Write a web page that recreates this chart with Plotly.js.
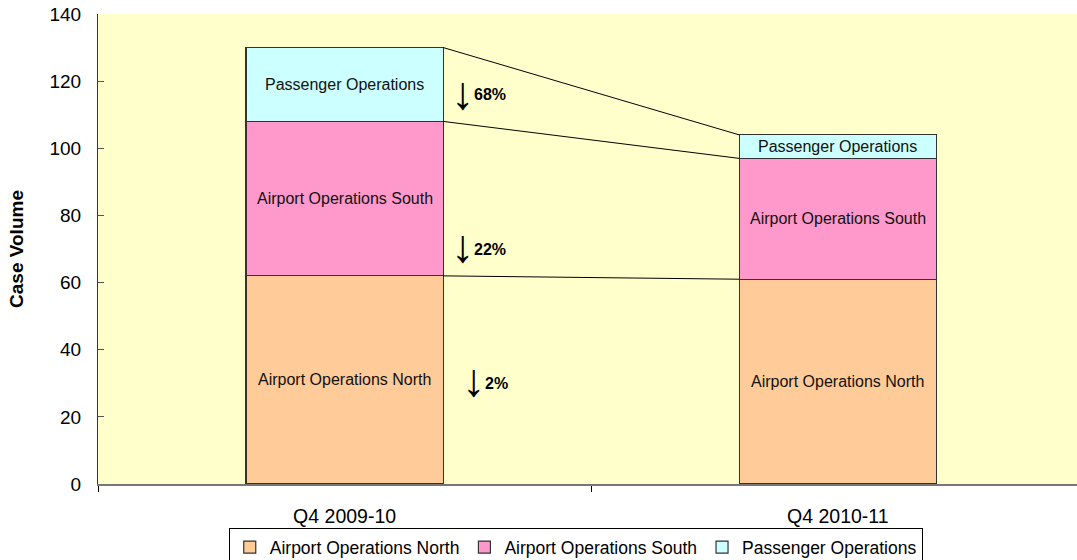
<!DOCTYPE html>
<html><head><meta charset="utf-8">
<script src="https://cdn.plot.ly/plotly-3.0.1.min.js"></script>
<style>html,body{margin:0;padding:0;background:#fff}#chart{width:1077px;height:560px}</style>
</head><body><div id="chart"></div>
<script>
const categories = ["Q4 2009-10", "Q4 2010-11"];
const seriesNames = ["Airport Operations North", "Airport Operations South", "Passenger Operations"];
const northValues = [62, 61];
const southValues = [46, 36];
const passengerValues = [22, 7];
const changeLabels = ["2%", "22%", "68%"];
const yTicks = [0, 20, 40, 60, 80, 100, 120, 140];

const colors = ["#FFCC99", "#FF99CC", "#CCFFFF"];
const allSeries = [northValues, southValues, passengerValues];
const xi = [0, 1];
const barW = 0.4;
const font = "Liberation Sans, Arial, sans-serif";

const traces = allSeries.map((vals, i) => ({
  type: "bar", name: seriesNames[i], x: xi, y: vals, width: barW,
  marker: {color: colors[i], line: {color: "#333", width: 1.2}},
  hoverinfo: "skip"
}));

const cum = [];
let running = [0, 0];
allSeries.forEach(vals => { running = running.map((r, k) => r + vals[k]); cum.push(running.slice()); });
let bases = [0, 0];
const annotations = [];
allSeries.forEach((vals, i) => {
  vals.forEach((v, k) => {
    annotations.push({x: xi[k], y: bases[k] + v / 2, xref: "x", yref: "y", text: seriesNames[i],
      showarrow: false, font: {family: font, size: 16, color: "#111"}});
  });
  bases = bases.map((b, k) => b + vals[k]);
});
cum.forEach(c => {
  traces.push({type: "scatter", mode: "lines", x: [xi[0] + barW / 2, xi[1] - barW / 2], y: [c[0], c[1]],
    line: {color: "#000", width: 1}, showlegend: false, hoverinfo: "skip"});
});
const arrowPos = [{x: 0.261, y: 31}, {x: 0.24, y: 71}, {x: 0.24, y: 116.6}];
const labelPos = [{x: 0.28, y: 30}, {x: 0.259, y: 70}, {x: 0.259, y: 116}];
changeLabels.forEach((t, i) => {
  annotations.push({x: arrowPos[i].x, y: arrowPos[i].y, xref: "x", yref: "y",
    text: "↓", showarrow: false, font: {family: font, size: 46, color: "#000"}});
  annotations.push({x: labelPos[i].x, y: labelPos[i].y, xref: "x", yref: "y", xanchor: "left",
    text: "<b>" + t + "</b>", showarrow: false, font: {family: font, size: 16, color: "#000"}});
});

const layout = {
  width: 1077, height: 560,
  margin: {l: 98, r: 0, t: 14, b: 76, autoexpand: false},
  paper_bgcolor: "#fff", plot_bgcolor: "#FFFFCC",
  barmode: "stack", showlegend: true,
  font: {family: font, size: 16, color: "#000"},
  xaxis: {range: [-0.5, 1.485], tickvals: xi, ticktext: categories, ticks: "", automargin: false,
    minor: {tickvals: [-0.5, 0.5], ticks: "outside", ticklen: 6, tickcolor: "#000", showgrid: false},
    showline: true, linecolor: "#777", linewidth: 1.5,
    showgrid: false, zeroline: false, tickfont: {size: 19.5}, ticklabelstandoff: 14},
  yaxis: {range: [0, 140], tickvals: yTicks, ticks: "inside", ticklen: 6, tickcolor: "#555", automargin: false,
    showline: true, linecolor: "#333", linewidth: 1, showgrid: false, zeroline: false,
    tickfont: {size: 19}, ticklabelstandoff: 12,
    title: {text: "<b>Case Volume</b>", font: {size: 19}, standoff: 20}},
  legend: {orientation: "h", x: 0.488, xanchor: "center", y: -0.094, yanchor: "top",
    bordercolor: "#000", borderwidth: 1, bgcolor: "#fff", font: {size: 17.5},
    itemwidth: 30, tracegroupgap: 0, traceorder: "normal"},
  annotations: annotations
};
Plotly.newPlot("chart", traces, layout, {displayModeBar: false, staticPlot: true});
</script></body></html>
